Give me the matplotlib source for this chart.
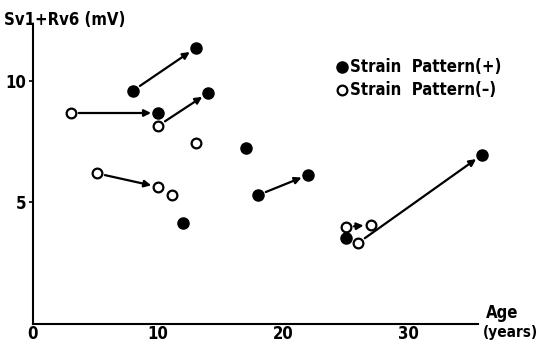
import matplotlib
matplotlib.use("Agg")
import matplotlib.pyplot as plt

# Strain pattern (+) : filled circles
pos_age = [8.0, 13.0, 10.0, 14.0, 17.0, 12.0, 18.0, 22.0, 25.0, 35.9]
pos_mv = [9.6, 11.35, 8.68, 9.5, 7.24, 4.16, 5.3, 6.13, 3.54, 6.95]

# Strain pattern (-) : open circles
neg_age = [3.0, 10.0, 13.0, 5.1, 10.0, 11.1, 25.0, 27.0, 26.0]
neg_mv = [8.68, 8.15, 7.45, 6.2, 5.64, 5.3, 3.99, 4.07, 3.33]

# follow-up arrows (from -> to)
arr_from_age = [8.0, 3.0, 10.0, 5.1, 18.0, 25.0, 26.0]
arr_from_mv = [9.6, 8.68, 8.15, 6.2, 5.3, 3.99, 3.33]
arr_to_age = [13.0, 10.0, 14.0, 10.0, 22.0, 27.0, 35.9]
arr_to_mv = [11.35, 8.68, 9.5, 5.64, 6.13, 4.07, 6.95]

xticks = [0, 10, 20, 30]
yticks = [5, 10]

FONT = dict(family="DejaVu Sans", fontweight="bold", fontstretch="condensed")

fig = plt.figure(figsize=(5.4, 3.46), dpi=100)
ax = fig.add_axes([33 / 540, 22 / 346, 445 / 540, 299 / 346])
ax.set_xlim(0, 35.6)
ax.set_ylim(0, 12.3)

for s in ["top", "right"]:
    ax.spines[s].set_visible(False)
for s in ["left", "bottom"]:
    ax.spines[s].set_linewidth(1.5)

for x0, y0, x1, y1 in zip(arr_from_age, arr_from_mv, arr_to_age, arr_to_mv):
    ax.annotate("", xy=(x1, y1), xytext=(x0, y0),
                arrowprops=dict(arrowstyle="-|>", color="black", lw=1.6,
                                mutation_scale=10, shrinkA=6, shrinkB=5),
                annotation_clip=False)

ax.plot(pos_age, pos_mv, "o", color="black", markersize=8, clip_on=False, zorder=3)
ax.plot(neg_age, neg_mv, "o", markerfacecolor="white", markeredgecolor="black",
        markersize=7, markeredgewidth=1.6, clip_on=False, zorder=3)

ax.set_xticks(xticks)
ax.set_xticklabels([str(t) for t in xticks], fontsize=12, **FONT)
ax.set_yticks(yticks)
ax.set_yticklabels([str(t) for t in yticks], fontsize=12, **FONT)
ax.tick_params(axis="x", length=0, pad=1)
ax.tick_params(axis="y", length=3, width=1.2, direction="out", pad=2)

fig.text(4 / 540, 1 - 20 / 346, "Sv1+Rv6 (mV)", fontsize=12, va="center", ha="left", **FONT)
fig.text(502 / 540, 1 - 313 / 346, "Age", fontsize=12, va="center", ha="center", **FONT)
fig.text(510 / 540, 1 - 333 / 346, "(years)", fontsize=11, va="center", ha="center", **FONT)

# legend
fig.lines.append(plt.Line2D([342 / 540], [1 - 67 / 346], marker="o", color="black",
                            markersize=8, transform=fig.transFigure, linestyle=""))
fig.lines.append(plt.Line2D([342 / 540], [1 - 90 / 346], marker="o", markerfacecolor="white",
                            markeredgecolor="black", markersize=7, markeredgewidth=1.6,
                            transform=fig.transFigure, linestyle=""))
fig.text(350 / 540, 1 - 67 / 346, "Strain  Pattern(+)", fontsize=12, va="center", ha="left", **FONT)
fig.text(350 / 540, 1 - 90 / 346, "Strain  Pattern(\u2013)", fontsize=12, va="center", ha="left", **FONT)

fig.savefig("out.png", dpi=100)
